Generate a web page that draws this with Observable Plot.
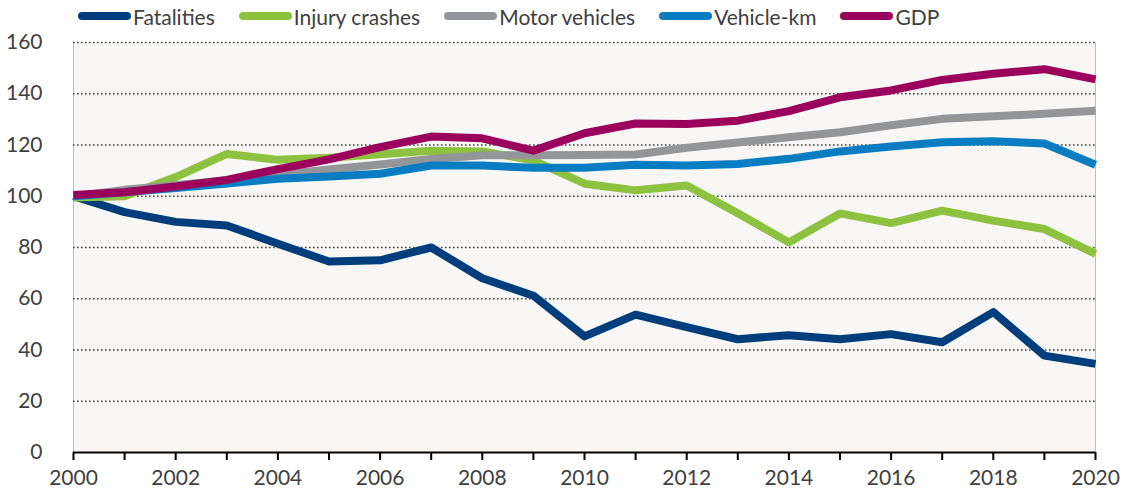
<!DOCTYPE html>
<html>
<head>
<meta charset="utf-8">
<script src="https://cdn.jsdelivr.net/npm/d3@7"></script>
<script src="https://cdn.jsdelivr.net/npm/@observablehq/plot@0.6"></script>
<style>
  html, body { margin: 0; padding: 0; background: #fff; }
  body { width: 1132px; height: 504px; overflow: hidden; font-family: Lato, "Open Sans", sans-serif; }
  #legend { height: 32px; display: flex; align-items: center; padding-left: 78px; box-sizing: border-box; color: #404040; font-size: 21px; }
  .item { display: flex; align-items: center; margin-right: 24px; }
  .sw { width: 53px; height: 8px; border-radius: 4px; margin-right: 2px; }
  #chart svg { display: block; overflow: visible; }
</style>
</head>
<body>
<div id="legend"></div>
<div id="chart"></div>
<script>
const years = d3.range(2000, 2021);
const seriesNames = ["Fatalities", "Injury crashes", "Motor vehicles", "Vehicle-km", "GDP"];
const seriesColors = ["#003d7c", "#8cc23f", "#939598", "#0a7dc2", "#9b005c"];
const fatalities = [100, 93.8, 90, 88.6, 81.5, 74.5, 75, 80, 68, 61.2, 45.3, 53.8, 48.9, 44.2, 45.8, 44.2, 46.2, 43, 54.8, 37.8, 34.6];
const injuryCrashes = [99.5, 100, 107.5, 116.5, 114.2, 115, 116.4, 117.8, 117.5, 114, 104.9, 102.3, 104.2, 93.4, 82, 93.3, 89.5, 94.4, 90.5, 87.2, 77.5];
const motorVehicles = [100, 102.5, 104.3, 106.3, 108.4, 110.4, 112.4, 114.5, 116, 116, 116.1, 116.3, 118.9, 121, 123, 125, 127.7, 130.2, 131.2, 132.2, 133.4];
const vehicleKm = [100, 101.6, 103.2, 105, 106.8, 107.7, 108.8, 112, 112, 111.1, 111.1, 112.3, 112, 112.6, 114.6, 117.5, 119.4, 121.1, 121.5, 120.6, 112.3];
const gdp = [100.5, 101.6, 103.8, 106.4, 110.6, 114.4, 119.2, 123.3, 122.6, 117.8, 124.6, 128.4, 128.2, 129.5, 133.2, 138.6, 141.3, 145.4, 147.8, 149.6, 145.6];
const yTicks = [0, 20, 40, 60, 80, 100, 120, 140, 160];
const gridTicks = [20, 40, 60, 80, 100, 120, 140, 160];

const allValues = [fatalities, injuryCrashes, motorVehicles, vehicleKm, gdp];
const data = [];
seriesNames.forEach((name, i) => {
  years.forEach((y, j) => data.push({series: name, year: y, value: allValues[i][j]}));
});

// legend
const legend = document.getElementById("legend");
seriesNames.forEach((name, i) => {
  const it = document.createElement("div");
  it.className = "item";
  const sw = document.createElement("div");
  sw.className = "sw";
  sw.style.background = seriesColors[i];
  const tx = document.createElement("span");
  tx.textContent = name;
  it.appendChild(sw); it.appendChild(tx);
  legend.appendChild(it);
});

const plot = Plot.plot({
  width: 1132,
  height: 472,
  marginTop: 10,
  marginBottom: 52,
  marginLeft: 73,
  marginRight: 37,
  style: { fontFamily: "Lato, 'Open Sans', sans-serif", fontSize: "21px", color: "#404040", background: "transparent", overflow: "visible" },
  x: { domain: [2000, 2020] },
  y: { domain: [0, 160] },
  color: { domain: seriesNames, range: seriesColors },
  marks: [
    Plot.frame({ fill: "#f8f7f5", stroke: null }),
    Plot.ruleX([2000, 2020], { stroke: "#bdbdbd", strokeWidth: 1 }),
    Plot.ruleY(gridTicks, { stroke: "#404040", strokeWidth: 1.6, strokeDasharray: "1.6,2.4" }),
    Plot.axisY({ ticks: yTicks, tickSize: 0, tickPadding: 31, label: null, fill: "#404040" }),
    Plot.axisX({ ticks: years, tickSize: 8, tickPadding: 10, strokeWidth: 2, stroke: "#000", label: null, fill: "#404040",
      tickFormat: d => d % 2 === 0 ? String(d) : "" }),
    Plot.lineY(data, { x: "year", y: "value", z: "series", stroke: "series", strokeWidth: 8, strokeLinejoin: "round", strokeLinecap: "butt" }),
    Plot.ruleY([0], { stroke: "#000", strokeWidth: 2.2 })
  ]
});
document.getElementById("chart").appendChild(plot);
</script>
</body>
</html>
